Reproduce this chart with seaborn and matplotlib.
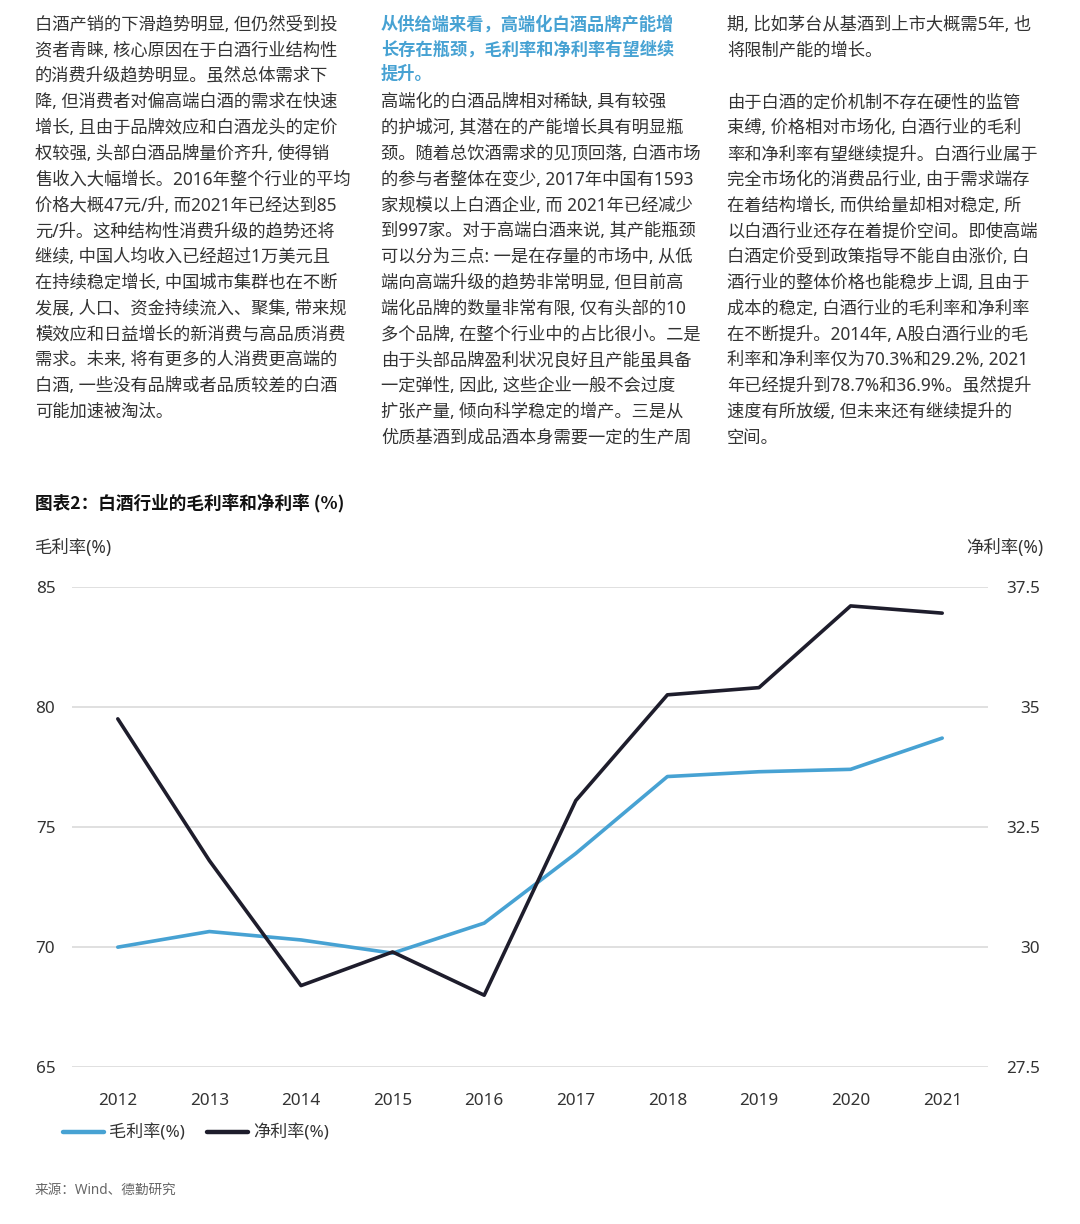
import matplotlib
matplotlib.use("Agg")
import matplotlib.pyplot as plt
import seaborn as sns
import pandas as pd
from matplotlib.lines import Line2D

# ---------------- data ----------------
years = [2012, 2013, 2014, 2015, 2016, 2017, 2018, 2019, 2020, 2021]
gross_margin = [70.0, 70.65, 70.3, 69.75, 71.0, 73.9, 77.1, 77.3, 77.4, 78.7]
net_margin = [34.75, 31.8, 29.2, 29.9, 29.0, 33.05, 35.25, 35.4, 37.1, 36.95]
left_ticks = [65, 70, 75, 80, 85]
right_ticks = [27.5, 30, 32.5, 35, 37.5]
left_tick_labels = ["65", "70", "75", "80", "85"]
right_tick_labels = ["27.5", "30", "32.5", "35", "37.5"]
series_names = ["毛利率(%)", "净利率(%)"]

col1_lines = [
    "白酒产销的下滑趋势明显, 但仍然受到投",
    "资者青睐, 核心原因在于白酒行业结构性",
    "的消费升级趋势明显。虽然总体需求下",
    "降, 但消费者对偏高端白酒的需求在快速",
    "增长, 且由于品牌效应和白酒龙头的定价",
    "权较强, 头部白酒品牌量价齐升, 使得销",
    "售收入大幅增长。2016年整个行业的平均",
    "价格大概47元/升, 而2021年已经达到85",
    "元/升。这种结构性消费升级的趋势还将",
    "继续, 中国人均收入已经超过1万美元且",
    "在持续稳定增长, 中国城市集群也在不断",
    "发展, 人口、资金持续流入、聚集, 带来规",
    "模效应和日益增长的新消费与高品质消费",
    "需求。未来, 将有更多的人消费更高端的",
    "白酒, 一些没有品牌或者品质较差的白酒",
    "可能加速被淘汰。",
]
col2_heading = [
    "从供给端来看，高端化白酒品牌产能增",
    "长存在瓶颈，毛利率和净利率有望继续",
    "提升。",
]
col2_lines = [
    "高端化的白酒品牌相对稀缺, 具有较强",
    "的护城河, 其潜在的产能增长具有明显瓶",
    "颈。随着总饮酒需求的见顶回落, 白酒市场",
    "的参与者整体在变少, 2017年中国有1593",
    "家规模以上白酒企业, 而 2021年已经减少",
    "到997家。对于高端白酒来说, 其产能瓶颈",
    "可以分为三点: 一是在存量的市场中, 从低",
    "端向高端升级的趋势非常明显, 但目前高",
    "端化品牌的数量非常有限, 仅有头部的10",
    "多个品牌, 在整个行业中的占比很小。二是",
    "由于头部品牌盈利状况良好且产能虽具备",
    "一定弹性, 因此, 这些企业一般不会过度",
    "扩张产量, 倾向科学稳定的增产。三是从",
    "优质基酒到成品酒本身需要一定的生产周",
]
col3_top = [
    "期, 比如茅台从基酒到上市大概需5年, 也",
    "将限制产能的增长。",
]
col3_lines = [
    "由于白酒的定价机制不存在硬性的监管",
    "束缚, 价格相对市场化, 白酒行业的毛利",
    "率和净利率有望继续提升。白酒行业属于",
    "完全市场化的消费品行业, 由于需求端存",
    "在着结构增长, 而供给量却相对稳定, 所",
    "以白酒行业还存在着提价空间。即使高端",
    "白酒定价受到政策指导不能自由涨价, 白",
    "酒行业的整体价格也能稳步上调, 且由于",
    "成本的稳定, 白酒行业的毛利率和净利率",
    "在不断提升。2014年, A股白酒行业的毛",
    "利率和净利率仅为70.3%和29.2%, 2021",
    "年已经提升到78.7%和36.9%。虽然提升",
    "速度有所放缓, 但未来还有继续提升的",
    "空间。",
]
chart_title = "图表2：白酒行业的毛利率和净利率 (%)"
left_axis_title = "毛利率(%)"
right_axis_title = "净利率(%)"
source_text = "来源：Wind、德勤研究"

# ---------------- style ----------------
sns.set_style("white")
FAM = ["Noto Sans", "Noto Sans CJK SC", "DejaVu Sans"]
plt.rcParams["font.family"] = FAM

BLUE = "#47A2D3"
NAVY = "#1E1D2C"
TXT = "#333333"
GRID = "#DDDDDD"

W, H = 1080, 1224
fig = plt.figure(figsize=(W / 100, H / 100), dpi=100)
fig.patch.set_facecolor("white")

def fy(py):
    return 1 - py / H

def fx(px):
    return px / W

# ---------------- text columns ----------------
BODY_FS = 12.45
row_y = lambda i: 25 + 25.8 * i

for i, t in enumerate(col1_lines):
    fig.text(fx(35), fy(row_y(i)), t, fontsize=BODY_FS, color=TXT, va="center", ha="left")

heading_y = [25, 49.5, 74]
for y, t in zip(heading_y, col2_heading):
    fig.text(fx(381), fy(y), t, fontsize=12.4, color=BLUE, fontweight="bold", va="center", ha="left",
             family=["Noto Sans CJK SC", "DejaVu Sans"])
for i, t in enumerate(col2_lines):
    fig.text(fx(381), fy(row_y(i + 3)), t, fontsize=BODY_FS, color=TXT, va="center", ha="left")

for i, t in enumerate(col3_top):
    fig.text(fx(727), fy(row_y(i)), t, fontsize=BODY_FS, color=TXT, va="center", ha="left")
for i, t in enumerate(col3_lines):
    fig.text(fx(727), fy(row_y(i + 3)), t, fontsize=BODY_FS, color=TXT, va="center", ha="left")

fig.text(fx(35), fy(503), chart_title, fontsize=12.7, color="#111111", fontweight="bold", va="center", ha="left",
         family=["Noto Sans CJK SC", "DejaVu Sans"])
fig.text(fx(35), fy(548), left_axis_title, fontsize=12.5, color=TXT, va="center", ha="left")
fig.text(fx(1043), fy(548), right_axis_title, fontsize=12.5, color=TXT, va="center", ha="right")
fig.text(fx(35), fy(1190), source_text, fontsize=9.8, color="#666666", va="center", ha="left")

# ---------------- chart ----------------
ax_l, ax_r, ax_t, ax_b = 72, 988, 586.7, 1067.3
ax = fig.add_axes([fx(ax_l), fy(ax_b), (ax_r - ax_l) / W, (ax_b - ax_t) / H])
df = pd.DataFrame({"year": years, "gross": gross_margin, "net": net_margin})

sns.lineplot(data=df, x="year", y="gross", ax=ax, color=BLUE, linewidth=2.6, solid_capstyle="round")
ax.set_ylim(65, 85)
ax.set_yticks(left_ticks)
ax.set_yticklabels(left_tick_labels)
ax.set_xlim(2011.5, 2021.5)
ax.set_xticks(years)
ax.set_xticklabels([str(y) for y in years])
ax.set_xlabel("")
ax.set_ylabel("")
ax.grid(axis="y", color=GRID, linewidth=1.3)
ax.grid(axis="x", visible=False)
ax.set_axisbelow(True)
for s in ax.spines.values():
    s.set_visible(False)
ax.tick_params(axis="y", length=0, pad=12, labelsize=12.3, labelcolor=TXT)
ax.tick_params(axis="x", length=0, pad=18.5, labelsize=12.3, labelcolor=TXT)

ax2 = ax.twinx()
sns.lineplot(data=df, x="year", y="net", ax=ax2, color=NAVY, linewidth=2.6, solid_capstyle="round")
ax2.set_ylim(27.5, 37.5)
ax2.set_yticks(right_ticks)
ax2.set_yticklabels(right_tick_labels)
ax2.set_ylabel("")
ax2.grid(False)
for s in ax2.spines.values():
    s.set_visible(False)
ax2.tick_params(axis="y", length=0, pad=37.4, labelsize=12.3, labelcolor=TXT)
for lab in ax2.get_yticklabels():
    lab.set_horizontalalignment("right")
ax2.set_xlim(2011.5, 2021.5)

# legend
handles = [Line2D([], [], color=BLUE, linewidth=3.2), Line2D([], [], color=NAVY, linewidth=3.2)]
fig.legend(handles, series_names, loc="center left", bbox_to_anchor=(fx(63), fy(1133)),
           ncol=2, frameon=False, fontsize=12.3, handlelength=2.4, handletextpad=0.3,
           columnspacing=1.3, borderpad=0, borderaxespad=0, labelcolor=TXT)

fig.savefig("out.png", dpi=100, facecolor="white")
